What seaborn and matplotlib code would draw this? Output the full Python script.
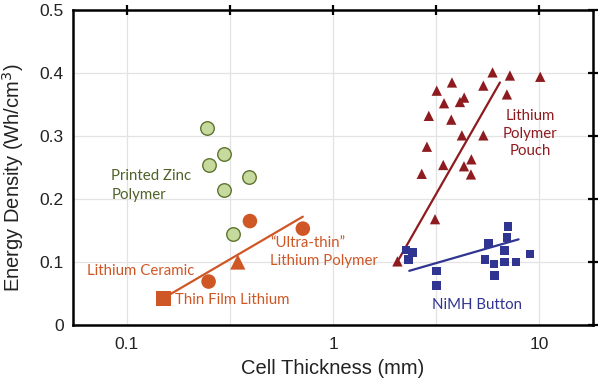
import numpy as np
import pandas as pd
import matplotlib
matplotlib.use("Agg")
import matplotlib.pyplot as plt
import seaborn as sns

# --- data (thickness in mm, energy density in Wh/cm3) ---
zinc_x = [0.245, 0.249, 0.297, 0.393, 0.297, 0.328]
zinc_y = [0.313, 0.254, 0.271, 0.235, 0.214, 0.144]

ultrathin_x = [0.395, 0.713, 0.249]
ultrathin_y = [0.165, 0.153, 0.069]
ceramic_x = [0.345]
ceramic_y = [0.100]
thinfilm_x = [0.150]
thinfilm_y = [0.042]
lith_fit_x = [0.1625, 0.713]
lith_fit_y = [0.049, 0.172]

pouch_x = [5.93, 7.20, 10.1, 3.77, 5.35, 3.18, 4.32, 4.12, 3.45, 6.96, 2.91,
           3.74, 4.21, 5.35, 2.85, 3.42, 4.68, 4.31, 2.69, 4.66, 3.12, 2.05]
pouch_y = [0.401, 0.396, 0.394, 0.385, 0.380, 0.372, 0.361, 0.354, 0.352, 0.366, 0.332,
           0.326, 0.301, 0.301, 0.283, 0.254, 0.263, 0.252, 0.240, 0.239, 0.168, 0.101]
pouch_fit_x = [2.07, 6.44]
pouch_fit_y = [0.103, 0.385]

nimh_x = [2.26, 2.43, 2.32, 3.18, 3.18, 5.68, 7.04, 6.96, 6.76, 5.45, 6.02,
          6.78, 7.69, 9.0, 6.07]
nimh_y = [0.119, 0.115, 0.104, 0.086, 0.063, 0.129, 0.156, 0.139, 0.118, 0.104, 0.097,
          0.100, 0.100, 0.113, 0.079]
nimh_fit_x = [2.34, 7.93]
nimh_fit_y = [0.086, 0.136]

x_ticks = [0.1, 0.316, 1, 3.16, 10]
x_ticklabels = ['0.1', '', '1', '', '10']
y_ticks = [0, 0.1, 0.2, 0.3, 0.4, 0.5]
y_ticklabels = ['0', '0.1', '0.2', '0.3', '0.4', '0.5']

GREEN_FACE = '#c5da9c'
GREEN_EDGE = '#5e7430'
GREEN_TEXT = '#4f6228'
ORANGE = '#cf5726'
DARKRED = '#8e1b1f'
NAVY = '#2f3590'

sns.set_style("whitegrid")
plt.rcParams['font.family'] = ['Liberation Sans', 'DejaVu Sans']

fig = plt.figure(figsize=(6, 3.84), dpi=100)
ax = fig.add_axes([0.1217, 0.1536, 0.8666, 0.8203])

# fit lines
sns.lineplot(x=lith_fit_x, y=lith_fit_y, color=ORANGE, lw=1.6, ax=ax, zorder=2)
sns.lineplot(x=pouch_fit_x, y=pouch_fit_y, color=DARKRED, lw=1.6, ax=ax, zorder=2)
sns.lineplot(x=nimh_fit_x, y=nimh_fit_y, color=NAVY, lw=1.6, ax=ax, zorder=2)

# markers
sns.scatterplot(x=zinc_x, y=zinc_y, s=95, color=GREEN_FACE, edgecolor=GREEN_EDGE,
                linewidth=1.0, ax=ax, zorder=3)
sns.scatterplot(x=ultrathin_x, y=ultrathin_y, s=110, color=ORANGE, edgecolor='none',
                ax=ax, zorder=3)
sns.scatterplot(x=ceramic_x, y=ceramic_y, s=120, marker='^', color=ORANGE,
                edgecolor='none', ax=ax, zorder=3)
sns.scatterplot(x=thinfilm_x, y=thinfilm_y, s=120, marker='s', color=ORANGE,
                edgecolor='none', ax=ax, zorder=3)
sns.scatterplot(x=pouch_x, y=pouch_y, s=55, marker='^', color=DARKRED,
                edgecolor='none', ax=ax, zorder=3)
sns.scatterplot(x=nimh_x, y=nimh_y, s=38, marker='s', color=NAVY,
                edgecolor='none', ax=ax, zorder=3)

ax.set_xscale('log')
ax.set_xlim(0.0548, 18.2)
ax.set_ylim(0, 0.5)
ax.set_xticks(x_ticks)
ax.set_xticklabels(x_ticklabels)
ax.set_yticks(y_ticks)
ax.set_yticklabels(y_ticklabels)
ax.minorticks_off()

ax.grid(True, color='#e3e3e3', lw=0.9)
for side in ['left', 'right', 'top', 'bottom']:
    ax.spines[side].set_visible(True)
    ax.spines[side].set_color('black')
    ax.spines[side].set_linewidth(1.8)
ax.tick_params(axis='both', which='major', direction='inout', length=7, width=1.6,
               color='black', top=True, right=True, labelsize=12.5, labelcolor='#222222')
ax.tick_params(axis='x', pad=5)
ax.tick_params(axis='y', pad=3)

ax.set_xlabel('Cell Thickness (mm)', fontsize=14.5, color='#222222', labelpad=5)
ax.set_ylabel('Energy Density (Wh/cm$^3$)', fontsize=14.5, color='#222222')
ax.yaxis.set_label_coords(-0.09, 0.467)

# annotations
tf = dict(family=['Lato', 'DejaVu Sans'], fontsize=10.8)
ax.text(0.0839, 0.221, 'Printed Zinc\nPolymer', color=GREEN_TEXT, ha='left', va='center',
        linespacing=1.45, **tf)
ax.text(0.0641, 0.086, 'Lithium Ceramic', color=ORANGE, ha='left', va='center', **tf)
ax.text(0.172, 0.040, 'Thin Film Lithium', color=ORANGE, ha='left', va='center', **tf)
ax.text(0.495, 0.116, '\u201cUltra-thin\u201d\nLithium Polymer', color=ORANGE, ha='left',
        va='center', linespacing=1.4, **tf)
ax.text(9.04, 0.304, 'Lithium\nPolymer\nPouch', color=DARKRED, ha='center', va='center',
        linespacing=1.3, **tf)
ax.text(5.01, 0.032, 'NiMH Button', color=NAVY, ha='center', va='center', **tf)

fig.savefig('out.png', dpi=100)
